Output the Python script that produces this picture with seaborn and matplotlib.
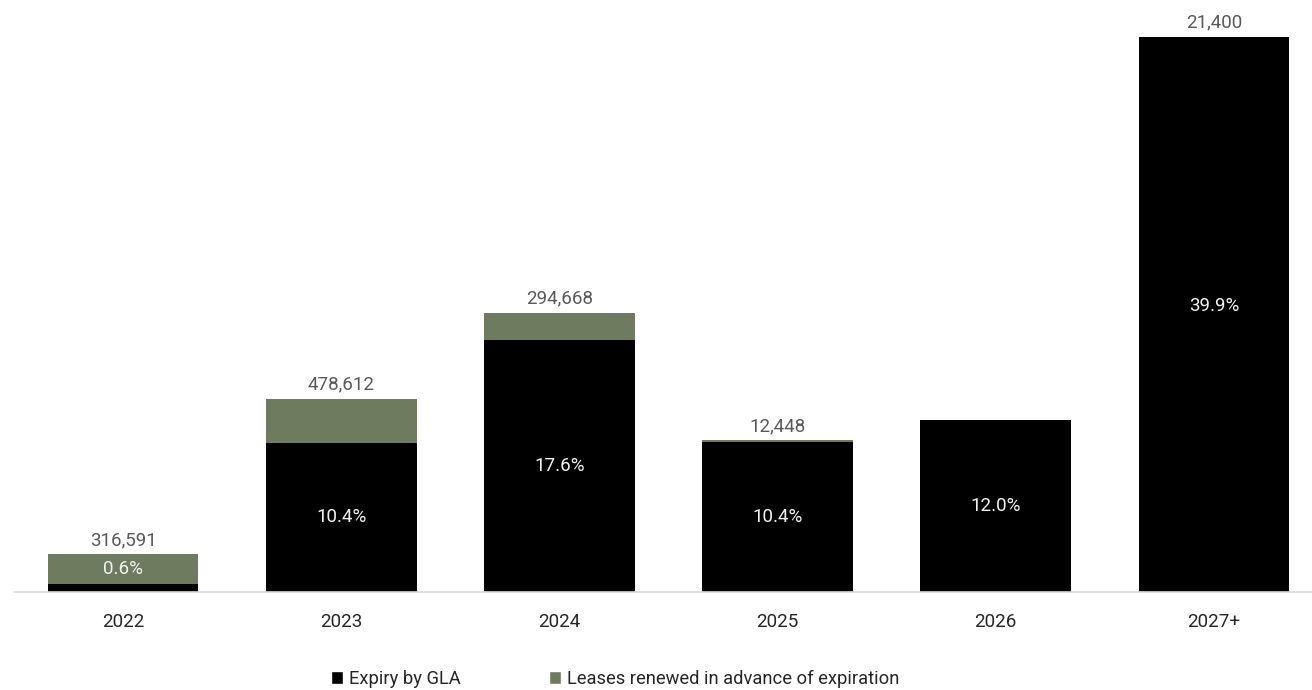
import matplotlib
matplotlib.use("Agg")
import matplotlib.pyplot as plt
import seaborn as sns
import pandas as pd
from matplotlib.patches import Patch

years = ["2022", "2023", "2024", "2025", "2026", "2027+"]
expiry = [0.6, 10.75, 18.1, 10.8, 12.4, 39.9]          # bar heights (%)
renewed = [2.1, 3.1, 2.0, 0.1, 0.0, 0.0]
expiry_labels = ["0.6%", "10.4%", "17.6%", "10.4%", "12.0%", "39.9%"]
total_labels = ["316,591", "478,612", "294,668", "12,448", "", "21,400"]

green = "#6E7B5F"

sns.set_style("white")
plt.rcParams["font.family"] = ["Roboto", "DejaVu Sans"]

df = pd.DataFrame({"year": years, "expiry": expiry, "renewed": renewed})
df["total"] = df["expiry"] + df["renewed"]

fig = plt.figure(figsize=(13.12, 6.9), dpi=100)
ax = fig.add_axes([14 / 1312, 98 / 690, 1309 / 1312, 584 / 690])

sns.barplot(data=df, x="year", y="total", color=green, width=0.69, ax=ax,
            saturation=1, linewidth=0)
sns.barplot(data=df, x="year", y="expiry", color="black", width=0.69, ax=ax,
            saturation=1, linewidth=0)

ax.set_ylim(0, 42)
ax.set_xlim(-0.5, 5.5)
ax.set_xlabel("")
ax.set_ylabel("")
ax.set_yticks([])
for s in ["top", "right", "left"]:
    ax.spines[s].set_visible(False)
ax.spines["bottom"].set_color("#D9D9D9")
ax.spines["bottom"].set_linewidth(1.2)
ax.tick_params(axis="x", length=0, pad=15, labelsize=13.5, labelcolor="#262626")

for i, row in df.iterrows():
    if row["total"] > 0 and total_labels[i]:
        ax.text(i, row["total"] + 0.4, total_labels[i], ha="center", va="bottom",
                fontsize=13.5, color="#595959")
    if i == 0:
        ypos = row["expiry"] + row["renewed"] / 2
    elif i == 5:
        ypos = row["expiry"] * 0.515
    else:
        ypos = row["expiry"] / 2
    ax.text(i, ypos, expiry_labels[i], ha="center", va="center",
            fontsize=13.5, color="#F2F2F2")

handles = [Patch(facecolor="black", label="Expiry by GLA"),
           Patch(facecolor=green, label="Leases renewed in advance of expiration")]
fig.legend(handles=handles, loc="center", bbox_to_anchor=(0.469, 0.016), ncol=2,
           frameon=False, fontsize=13.2, handlelength=0.65, handleheight=0.65,
           handletextpad=0.35, columnspacing=4.8, labelcolor="#262626")

fig.savefig("out.png", dpi=100)
